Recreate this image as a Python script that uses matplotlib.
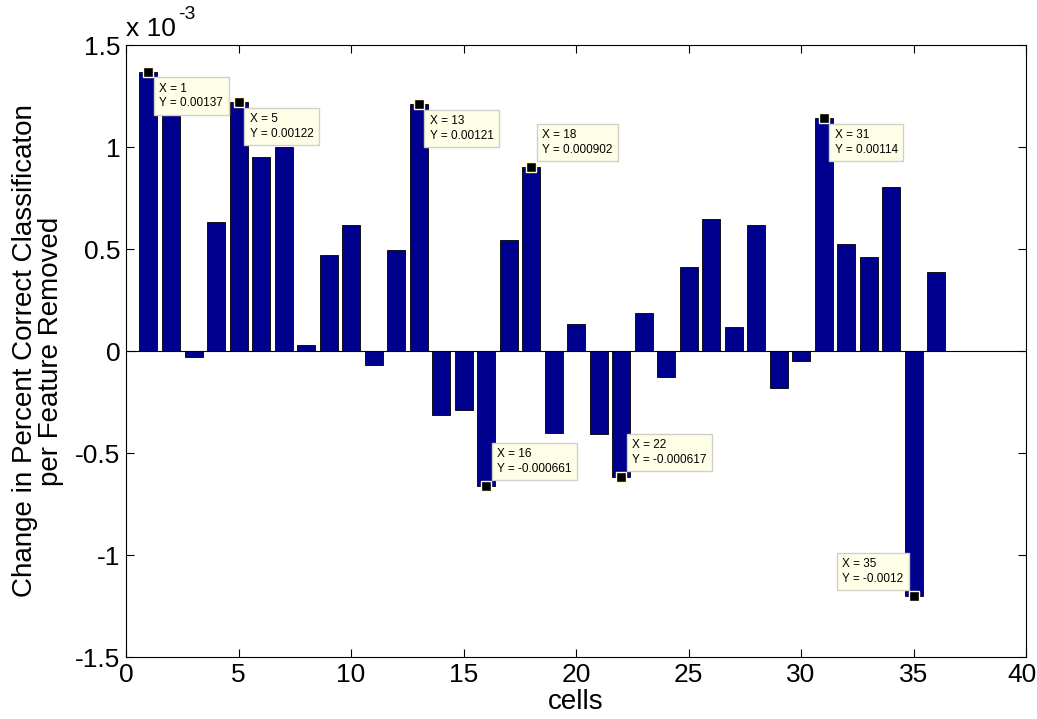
import matplotlib
matplotlib.use('Agg')
import matplotlib.pyplot as plt
import matplotlib.transforms as mtransforms
from matplotlib.ticker import FuncFormatter

plt.rcParams['font.family'] = ['Liberation Sans', 'DejaVu Sans']

# change in percent correct classification for each removed cell
cells = list(range(1, 37))
delta = [0.00137, 0.00120, -0.00003, 0.00063, 0.00122, 0.00095, 0.00100, 0.00003,
         0.00047, 0.00062, -0.00007, 0.000495, 0.00121, -0.000315, -0.000288, -0.000661,
         0.000546, 0.000902, -0.000402, 0.000134, -0.000408, -0.000617, 0.000185, -0.000129,
         0.00041, 0.000647, 0.000118, 0.000616, -0.000181, -0.000051, 0.00114, 0.000524,
         0.000459, 0.000802, -0.0012, 0.000389]

# data tips shown on the plot: cell index and where its box sits
tip_cells = [1, 5, 13, 18, 16, 22, 31, 35]
tip_side = ['lr', 'lr', 'lr', 'ur', 'ur', 'ur', 'lr', 'ul']

fig = plt.figure(figsize=(10.37, 7.19), dpi=100)
ax = fig.add_axes([0.1215, 0.0862, 0.868, 0.8512])

ax.bar(cells, delta, width=0.8, color='#00008F', edgecolor='black', linewidth=0.6, zorder=2)
ax.axhline(0, color='black', lw=0.8, zorder=3)

ax.set_xlim(0, 40)
ax.set_ylim(-1.5e-3, 1.5e-3)
ax.set_xticks(range(0, 41, 5))
ax.set_yticks([-1.5e-3, -1e-3, -0.5e-3, 0, 0.5e-3, 1e-3, 1.5e-3])
ax.yaxis.set_major_formatter(FuncFormatter(lambda v, _: f"{v * 1e3:g}"))
ax.tick_params(direction='in', top=True, right=True, length=6, width=0.8,
               labelsize=19, pad=4)
for s in ax.spines.values():
    s.set_linewidth(0.8)

# keep the last x label inside the figure edge
last = ax.get_xticklabels()[-1]
last.set_transform(last.get_transform() +
                   mtransforms.ScaledTranslation(-4 / 100, 0, fig.dpi_scale_trans))

# exponent written out by hand, MATLAB style
base = ax.text(0.0, 1.006, "x 10", transform=ax.transAxes, fontsize=19,
               ha='left', va='bottom')
ax.annotate("-3", xy=(1, 1), xycoords=base, xytext=(2, -6),
            textcoords='offset pixels', fontsize=14, ha='left', va='bottom')

ax.set_xlabel('cells', fontsize=20, labelpad=2)
ax.set_ylabel('Change in Percent Correct Classificaton\nper Feature Removed',
              fontsize=20, labelpad=8, linespacing=1.0)

offsets = {'lr': ((11, -11), 'left', 'top'),
           'ur': ((11, 11), 'left', 'bottom'),
           'ul': ((-10, 11), 'right', 'bottom')}

for c, side in zip(tip_cells, tip_side):
    y = delta[c - 1]
    (dx, dy), ha, va = offsets[side]
    ax.plot(c, y, 's', color='black', markersize=7, markeredgecolor='#FFFFD8',
            markeredgewidth=1.0, zorder=5)
    ax.annotate(f"X = {c}\nY = {y:.3g}", xy=(c, y), xytext=(dx, dy),
                textcoords='offset pixels', ha=ha, va=va, multialignment='left',
                fontsize=8.5, linespacing=1.3, zorder=6,
                bbox=dict(boxstyle='square,pad=0.45', facecolor='#FFFFE8',
                          edgecolor='#D0D0C8', linewidth=1.0))

fig.savefig('out.png', dpi=100)
